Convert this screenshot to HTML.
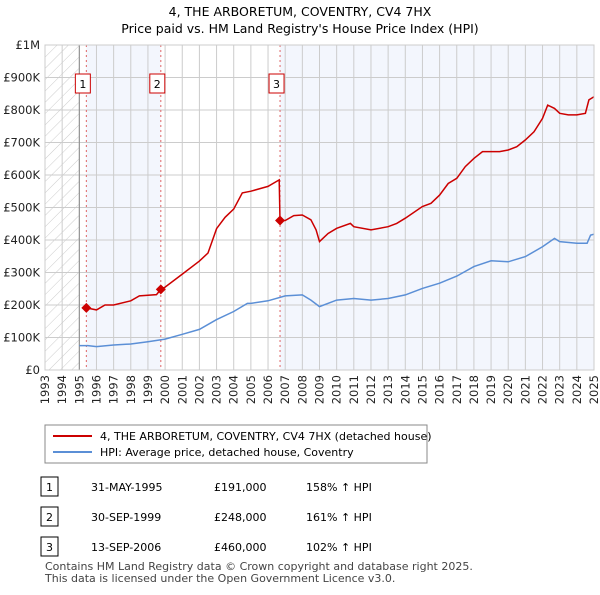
<!DOCTYPE html>
<html><head><meta charset="utf-8"><style>
body{margin:0;background:#fff;font-family:"Liberation Sans","DejaVu Sans",sans-serif;}
svg text{font-family:"DejaVu Sans","Liberation Sans",sans-serif;}
</style></head><body>
<svg width="600" height="590" xmlns="http://www.w3.org/2000/svg">
<defs><pattern id="hatch" width="8" height="8" patternUnits="userSpaceOnUse" patternTransform="rotate(45)"><line x1="0" y1="0" x2="0" y2="8" stroke="#ccc" stroke-width="1"/></pattern></defs>
<text x="300" y="16" text-anchor="middle" font-size="12.5" fill="#000">4, THE ARBORETUM, COVENTRY, CV4 7HX</text>
<text x="300" y="33" text-anchor="middle" font-size="12.5" fill="#000">Price paid vs. HM Land Registry's House Price Index (HPI)</text>
<g id="plot"></g>
<g id="legend">
<rect x="45" y="425" width="382" height="38" fill="#fff" stroke="#888"/>
<line x1="53" y1="436" x2="92" y2="436" stroke="#cc0000" stroke-width="2"/>
<text x="100" y="440" font-size="11">4, THE ARBORETUM, COVENTRY, CV4 7HX (detached house)</text>
<line x1="53" y1="452" x2="92" y2="452" stroke="#5b8fd6" stroke-width="2"/>
<text x="100" y="456" font-size="11">HPI: Average price, detached house, Coventry</text>
</g>
<g id="table"></g>
<text x="45" y="570" font-size="11" fill="#444">Contains HM Land Registry data © Crown copyright and database right 2025.</text>
<text x="45" y="582" font-size="11" fill="#444">This data is licensed under the Open Government Licence v3.0.</text>
</svg>
<script>
const hpiYears=[1995,1995.5,1996,1997,1998,1999,2000,2001,2002,2003,2004,2004.8,2005,2006,2007,2008,2008.5,2009,2010,2011,2012,2013,2014,2015,2016,2017,2018,2019,2020,2021,2022,2022.7,2023,2024,2024.6,2024.8,2025];
const hpiValues=[75,75,72,77,80,87,95,110,125,155,180,205,205,213,228,231,215,195,215,220,215,220,231,251,267,289,318,336,333,349,379,405,395,390,390,415,418];
const priceYears=[1995.41,1996,1996.5,1997,1998,1998.5,1999.5,1999.75,2000,2001,2002,2002.5,2003,2003.5,2004,2004.5,2005,2006,2006.65,2006.7,2007,2007.5,2008,2008.5,2008.8,2009,2009.5,2010,2010.8,2011,2012,2013,2013.5,2014,2015,2015.5,2016,2016.5,2017,2017.5,2018,2018.5,2019.5,2020,2020.5,2021,2021.5,2022,2022.3,2022.7,2023,2023.5,2024,2024.5,2024.7,2025];
const priceValues=[191,185,200,200,213,228,232,248,255,295,335,360,435,470,495,545,550,565,585,460,460,475,477,462,431,395,420,436,451,441,431,441,451,467,503,513,538,574,590,626,651,672,672,677,687,708,733,774,815,805,790,785,785,790,831,841];
const saleLabels=["1","2","3"];
const saleYears=[1995.41,1999.75,2006.7];
const saleValues=[191,248,460];
const saleDates=["31-MAY-1995","30-SEP-1999","13-SEP-2006"];
const salePrices=["£191,000","£248,000","£460,000"];
const saleHpi=["158% ↑ HPI","161% ↑ HPI","102% ↑ HPI"];
const yTicks=[0,100,200,300,400,500,600,700,800,900,1000];
const yTickLabels=["£0","£100K","£200K","£300K","£400K","£500K","£600K","£700K","£800K","£900K","£1M"];
const xStart=1993,xEnd=2025;
const L=45,R=594,T=45,B=370;
const X=y=>L+(y-xStart)/(xEnd-xStart)*(R-L);
const Y=v=>B-v/1000*(B-T);
const NS="http://www.w3.org/2000/svg";
const plot=document.getElementById('plot');
function mk(tag,attrs,parent){const e=document.createElementNS(NS,tag);for(const k in attrs)e.setAttribute(k,attrs[k]);(parent||plot).appendChild(e);return e;}
let e;
e=mk('rect',{x:L,y:T,width:R-L,height:B-T,fill:'#fff'});


e=mk('rect',{x:L,y:T,width:X(1995)-L,height:B-T,fill:'url(#hatch)'});


e=mk('rect',{x:X(saleYears[0]),y:T,width:X(saleYears[1])-X(saleYears[0]),height:B-T,fill:'#f3f6fd'});


e=mk('rect',{x:X(saleYears[2]),y:T,width:R-X(saleYears[2]),height:B-T,fill:'#f3f6fd'});


for(let yr=xStart;yr<=xEnd;yr++){
 e=mk('line',{x1:X(yr),x2:X(yr),y1:T,y2:B,stroke:'#ccc','stroke-width':1});
 
 
 e=mk('text',{x:0,y:0,transform:`translate(${X(yr)+4},${B+5}) rotate(-90)`,'text-anchor':'end','font-size':11.5,fill:'#222'});
 e.textContent=yr;
 
 
}
yTicks.forEach((v,i)=>{
 e=mk('line',{x1:L,x2:R,y1:Y(v),y2:Y(v),stroke:'#ccc','stroke-width':1});
 
 
 e=mk('text',{x:L-5,y:Y(v)+4,'text-anchor':'end','font-size':11.5,fill:'#222'});
 e.textContent=yTickLabels[i];
 
 
});
e=mk('line',{x1:X(1995),x2:X(1995),y1:T,y2:B,stroke:'#888'});


saleYears.forEach((yr,i)=>{
 e=mk('line',{x1:X(yr),x2:X(yr),y1:T,y2:B,stroke:'#e06666','stroke-dasharray':'2,3'});
 
 
 e=mk('rect',{x:X(yr)-11,y:74,width:15,height:19,fill:'#fff',stroke:'#cc0000'});
 
 
 e=mk('text',{x:X(yr)-3.5,y:88,'text-anchor':'middle','font-size':11});
 e.textContent=saleLabels[i];
 
 
});
const pts=(xs,vs)=>xs.map((x,i)=>X(x).toFixed(1)+','+Y(vs[i]).toFixed(1)).join(' ');
e=mk('polyline',{points:pts(hpiYears,hpiValues),fill:'none',stroke:'#5b8fd6','stroke-width':1.5});


e=mk('polyline',{points:pts(priceYears,priceValues),fill:'none',stroke:'#cc0000','stroke-width':1.5});


saleYears.forEach((yr,i)=>{
 const cx=X(yr),cy=Y(saleValues[i]);
 e=mk('polygon',{points:`${cx},${cy-5} ${cx+5},${cy} ${cx},${cy+5} ${cx-5},${cy}`,fill:'#cc0000'});
 
 
});
e=mk('rect',{x:L,y:T,width:R-L,height:B-T,fill:'none',stroke:'#ccc'});


const tbl=document.getElementById('table');
saleLabels.forEach((lab,i)=>{
 const y=487+i*30;
 e=mk('rect',{x:41,y:y-10,width:17,height:19,fill:'#fff',stroke:'#000'},tbl);
 
 
 const cols=[[49.5,lab,'middle'],[91,saleDates[i],'start'],[214,salePrices[i],'start'],[306,saleHpi[i],'start']];
 cols.forEach(c=>{
  e=mk('text',{x:c[0],y:y+4,'text-anchor':c[2],'font-size':11},tbl);
  e.textContent=c[1];
  
  
 });
});
</script>
</body></html>
